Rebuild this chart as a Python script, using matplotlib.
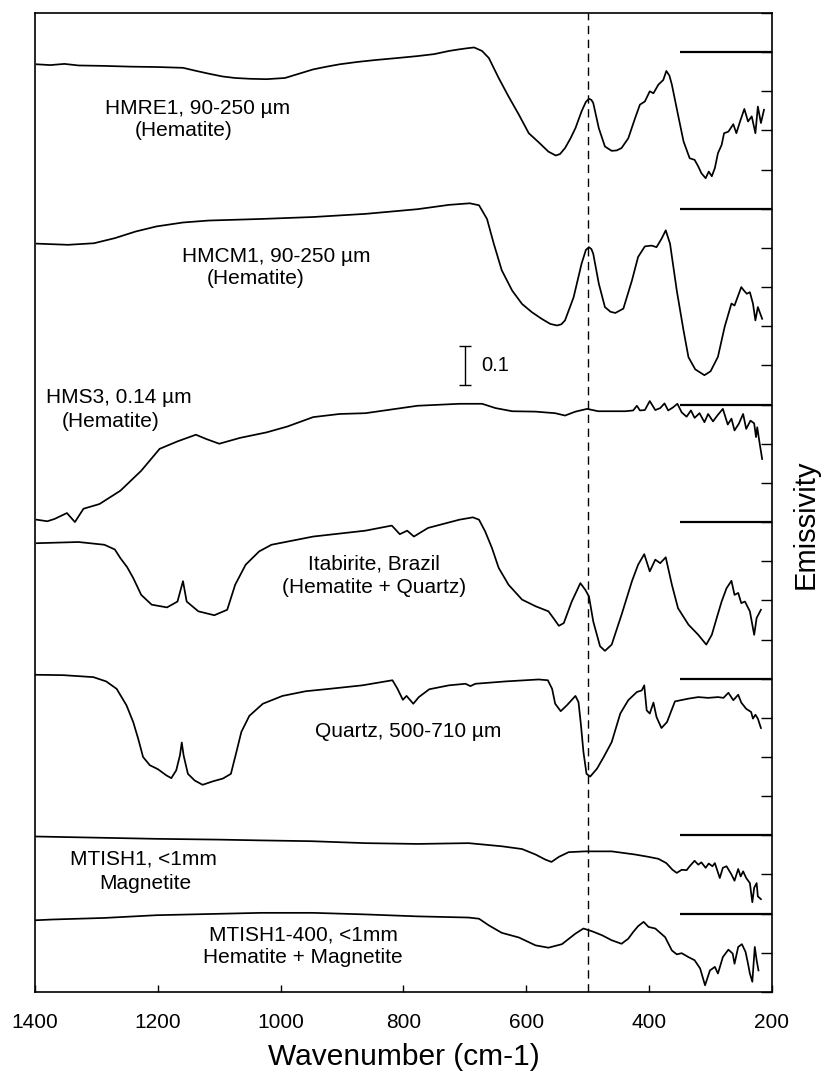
import numpy as np
import matplotlib.pyplot as plt

plt.rcParams['font.family'] = ['Liberation Sans', 'DejaVu Sans']

# Emissivity spectra (wavenumber in cm-1, emissivity); each curve is stacked by its offset
wn_hmre1 = [1397, 1375, 1352, 1329, 1290, 1244, 1200, 1159, 1140, 1117, 1095, 1074, 1050, 1023,
            993, 970, 947, 925, 904, 875, 845, 810, 777, 750, 726, 710, 696, 685,
            672, 661, 645, 629, 612, 596, 580, 564, 552, 545, 537, 528, 520, 510, 503, 498, 494,
            491, 482, 472, 461, 453, 445, 434, 423, 415, 407, 399, 393, 385, 377, 372, 367, 363,
            353, 344, 334, 326, 320, 315, 308, 303, 298, 293, 288, 282, 278, 271, 263, 258,
            252, 245, 239, 233, 227, 223, 218, 213]
em_hmre1 = [0.969, 0.967, 0.970, 0.966, 0.965, 0.963, 0.962, 0.960, 0.953, 0.945, 0.938, 0.934,
            0.932, 0.931, 0.934, 0.945, 0.956, 0.963, 0.969, 0.975, 0.980, 0.985, 0.990, 0.995,
            1.003, 1.007, 1.010, 1.012, 1.003, 0.985, 0.934, 0.887, 0.840, 0.793, 0.770, 0.746,
            0.736, 0.740, 0.755, 0.780, 0.806, 0.849, 0.873, 0.881, 0.878, 0.870, 0.806, 0.759,
            0.748, 0.749, 0.755, 0.780, 0.831, 0.866, 0.874, 0.900, 0.895, 0.917, 0.929, 0.952,
            0.940, 0.917, 0.840, 0.772, 0.729, 0.725, 0.708, 0.691, 0.678, 0.695, 0.683, 0.704,
            0.742, 0.763, 0.793, 0.797, 0.816, 0.793, 0.823, 0.855, 0.823, 0.836, 0.793, 0.861,
            0.819, 0.853]

wn_hmcm1 = [1397, 1346, 1304, 1270, 1236, 1202, 1159, 1117, 1032, 947, 862, 777, 726, 692,
            677, 664, 653, 640, 623, 607, 591, 575, 561, 550, 543, 537, 523, 510, 503, 498, 494,
            491, 482, 472, 463, 455, 442, 428, 418, 407, 396, 388, 380, 373, 366, 355, 344,
            336, 325, 310, 300, 288, 277, 266, 261, 250, 245, 241, 236, 231, 227, 223, 216]
em_hmcm1 = [0.911, 0.908, 0.912, 0.925, 0.942, 0.955, 0.965, 0.970, 0.974, 0.979, 0.987, 0.999,
            1.010, 1.014, 1.009, 0.974, 0.911, 0.843, 0.791, 0.757, 0.736, 0.719, 0.706, 0.702,
            0.705, 0.715, 0.774, 0.860, 0.895, 0.902, 0.897, 0.885, 0.809, 0.749, 0.737, 0.734,
            0.745, 0.817, 0.877, 0.904, 0.906, 0.902, 0.923, 0.945, 0.911, 0.791, 0.689, 0.621,
            0.590, 0.575, 0.585, 0.622, 0.699, 0.758, 0.753, 0.800, 0.790, 0.783, 0.787, 0.758,
            0.715, 0.749, 0.719]

wn_hms3 = [1397, 1380, 1368, 1348, 1335, 1321, 1295, 1261, 1227, 1197, 1168, 1138, 1121, 1100,
           1066, 1023, 989, 947, 904, 862, 777, 709, 694, 672, 650, 623, 585, 553, 537, 520,
           501, 483, 461, 439, 426, 420, 415, 407, 399, 390, 382, 375, 369, 361, 354, 347,
           339, 332, 326, 318, 310, 304, 296, 289, 280, 272, 266, 261, 254, 247, 242, 235,
           229, 226, 224, 220, 216]
em_hms3 = [0.706, 0.702, 0.708, 0.723, 0.700, 0.734, 0.746, 0.780, 0.831, 0.887, 0.906, 0.923,
           0.912, 0.900, 0.915, 0.929, 0.944, 0.968, 0.976, 0.978, 0.997, 1.002, 1.002, 1.002,
           0.991, 0.983, 0.982, 0.978, 0.972, 0.982, 0.989, 0.983, 0.983, 0.983, 0.985, 0.997,
           0.985, 0.986, 1.009, 0.986, 0.991, 1.003, 0.985, 0.993, 1.002, 0.980, 0.969, 0.985,
           0.966, 0.978, 0.955, 0.976, 0.957, 0.972, 0.989, 0.949, 0.964, 0.934, 0.951, 0.976,
           0.938, 0.959, 0.952, 0.917, 0.942, 0.900, 0.861]

wn_itab = [1397, 1329, 1287, 1270, 1261, 1250, 1240, 1227, 1210, 1185, 1168, 1159, 1153, 1134,
           1108, 1087, 1074, 1057, 1035, 1015, 947, 862, 819, 806, 794, 783, 760, 709, 687, 677,
           667, 656, 645, 629, 607, 585, 564, 556, 547, 539, 526, 512, 504, 498, 491, 480, 472,
           461, 445, 428, 418, 408, 399, 390, 382, 373, 363, 353, 336, 320, 307, 298, 290, 282,
           274, 266, 261, 255, 250, 244, 236, 229, 225, 218]
em_itab = [0.946, 0.949, 0.942, 0.930, 0.908, 0.885, 0.857, 0.814, 0.789, 0.782, 0.797, 0.849,
           0.797, 0.772, 0.762, 0.776, 0.840, 0.891, 0.925, 0.942, 0.963, 0.978, 0.991, 0.969,
           0.978, 0.963, 0.985, 1.006, 1.012, 1.006, 0.976, 0.934, 0.883, 0.840, 0.802, 0.785,
           0.772, 0.755, 0.735, 0.742, 0.797, 0.844, 0.827, 0.810, 0.746, 0.683, 0.671, 0.687,
           0.763, 0.849, 0.891, 0.918, 0.874, 0.904, 0.895, 0.910, 0.840, 0.780, 0.738, 0.712,
           0.687, 0.712, 0.755, 0.797, 0.831, 0.850, 0.814, 0.819, 0.793, 0.797, 0.772, 0.712,
           0.755, 0.776]

wn_quartz = [1400, 1354, 1305, 1284, 1267, 1251, 1240, 1232, 1224, 1213, 1200, 1186, 1178, 1170,
             1164, 1161, 1158, 1151, 1140, 1127, 1110, 1094, 1081, 1072, 1064, 1051, 1029, 997,
             959, 921, 867, 818, 810, 801, 795, 784, 775, 758, 726, 699, 691, 683, 634, 580,
             565, 558, 553, 544, 534, 520, 515, 511, 507, 502, 496, 485, 474, 461, 447, 434,
             420, 412, 408, 404, 399, 393, 388, 380, 371, 358, 336, 320, 304, 288, 279, 271,
             263, 255, 250, 242, 234, 231, 227, 223, 218]
em_quartz = [1.010, 1.009, 1.004, 0.993, 0.974, 0.932, 0.889, 0.847, 0.800, 0.779, 0.769, 0.753,
             0.746, 0.766, 0.804, 0.837, 0.804, 0.757, 0.740, 0.729, 0.738, 0.745, 0.757, 0.813,
             0.864, 0.905, 0.936, 0.956, 0.968, 0.974, 0.983, 0.996, 0.975, 0.946, 0.956, 0.936,
             0.953, 0.973, 0.983, 0.987, 0.981, 0.987, 0.993, 0.998, 0.996, 0.974, 0.936, 0.917,
             0.932, 0.956, 0.940, 0.881, 0.813, 0.757, 0.750, 0.770, 0.800, 0.838, 0.911, 0.945,
             0.966, 0.970, 0.983, 0.919, 0.911, 0.939, 0.902, 0.874, 0.889, 0.942, 0.949, 0.953,
             0.951, 0.953, 0.951, 0.964, 0.945, 0.959, 0.939, 0.923, 0.915, 0.898, 0.908, 0.898,
             0.874]

wn_mtish1 = [1400, 1300, 1202, 1100, 1032, 950, 862, 777, 694, 640, 607, 585, 569, 559, 547,
             531, 504, 461, 423, 401, 385, 372, 362, 355, 347, 339, 334, 326, 320, 315, 308,
             303, 297, 293, 285, 280, 274, 266, 261, 255, 251, 247, 242, 236, 232, 229, 225,
             223, 218]
em_mtish1 = [0.997, 0.994, 0.991, 0.989, 0.987, 0.985, 0.980, 0.978, 0.980, 0.972, 0.965, 0.951,
             0.938, 0.932, 0.945, 0.957, 0.959, 0.959, 0.951, 0.945, 0.940, 0.929, 0.912, 0.904,
             0.912, 0.911, 0.921, 0.935, 0.925, 0.931, 0.917, 0.928, 0.921, 0.929, 0.891, 0.917,
             0.921, 0.900, 0.884, 0.914, 0.895, 0.908, 0.891, 0.878, 0.829, 0.866, 0.878, 0.844,
             0.837]

wn_mtish400 = [1400, 1372, 1287, 1202, 1032, 947, 862, 777, 694, 677, 661, 640, 612, 585, 564,
               542, 520, 507, 493, 477, 461, 445, 434, 426, 418, 409, 401, 390, 374, 363, 355,
               347, 336, 326, 317, 309, 301, 293, 288, 280, 271, 264, 261, 255, 249, 243, 239,
               236, 232, 228, 225, 222]
em_mtish400 = [0.983, 0.985, 0.989, 0.996, 1.002, 1.002, 0.998, 0.993, 0.990, 0.987, 0.970,
               0.951, 0.939, 0.919, 0.913, 0.922, 0.949, 0.962, 0.955, 0.945, 0.932, 0.923, 0.936,
               0.953, 0.968, 0.979, 0.966, 0.962, 0.940, 0.906, 0.896, 0.899, 0.889, 0.881, 0.860,
               0.817, 0.855, 0.864, 0.847, 0.889, 0.908, 0.898, 0.872, 0.915, 0.922, 0.902, 0.872,
               0.847, 0.826, 0.915, 0.881, 0.855]

spectra = [(wn_hmre1, em_hmre1), (wn_hmcm1, em_hmcm1), (wn_hms3, em_hms3), (wn_itab, em_itab),
           (wn_quartz, em_quartz), (wn_mtish1, em_mtish1), (wn_mtish400, em_mtish400)]
offsets = [1.4, 1.0, 0.5, 0.2, -0.2, -0.6, -0.8]

labels = [
    ('HMRE1, 90-250 \u00b5m', 1286, 2.257), ('(Hematite)', 1238, 2.199),
    ('HMCM1, 90-250 \u00b5m', 1161, 1.877), ('(Hematite)', 1121, 1.821),
    ('HMS3, 0.14 \u00b5m', 1382, 1.519), ('(Hematite)', 1356, 1.458),
    ('Itabirite, Brazil', 955, 1.093), ('(Hematite + Quartz)', 997, 1.032),
    ('Quartz, 500-710 \u00b5m', 944, 0.664),
    ('MTISH1, <1mm', 1343, 0.340), ('Magnetite', 1296, 0.278),
    ('MTISH1-400, <1mm', 1117, 0.146), ('Hematite + Magnetite', 1127, 0.087),
]

xticks = [1400, 1200, 1000, 800, 600, 400, 200]
ref_wn = 500        # dashed reference line
bar_len = 0.1       # emissivity scale bar

fig = plt.figure(figsize=(8.21, 10.74), dpi=100)
ax = fig.add_axes([0.0426, 0.0764, 0.8977, 0.9115])

for (wn, em), off in zip(spectra, offsets):
    ax.plot(wn, np.array(em) + off, color='black', lw=1.25)
    # unity marker for each stacked spectrum
    ax.hlines(1.0 + off, 350, 200, color='black', lw=1.6)

ax.axvline(ref_wn, color='black', lw=1.0, ls=(0, (6, 4)))

# scale bar
ax.errorbar(700, 1.60, yerr=bar_len / 2, color='black', lw=1.0, capsize=4.5, capthick=1.0)
ax.text(674, 1.60, '0.1', fontsize=14.5, va='center', ha='left')

for txt, x, y in labels:
    ax.text(x, y, txt, fontsize=15, ha='left', va='center')

ax.set_xlim(1400, 200)
ax.set_ylim(0, 2.5)
ax.set_xticks(xticks)
ax.set_xticklabels([str(t) for t in xticks], fontsize=15)
ax.set_yticks(np.arange(0, 2.51, 0.1))
ax.tick_params(axis='x', direction='in', length=5, width=1, pad=15, top=False)
ax.tick_params(axis='y', direction='in', length=8, width=1, left=False, right=True,
               labelleft=False, labelright=False)
for sp in ax.spines.values():
    sp.set_linewidth(1.2)

ax.set_xlabel('Wavenumber (cm-1)', fontsize=21.5)
ax.xaxis.set_label_coords(0.5, -0.066)
ax.xaxis.label.set_va('center')
ax.yaxis.set_label_position('right')
ax.set_ylabel('Emissivity', fontsize=21, rotation=90)
ax.yaxis.set_label_coords(1.045, 0.478)
ax.yaxis.label.set_va('center')

fig.savefig('out.png', dpi=100)
